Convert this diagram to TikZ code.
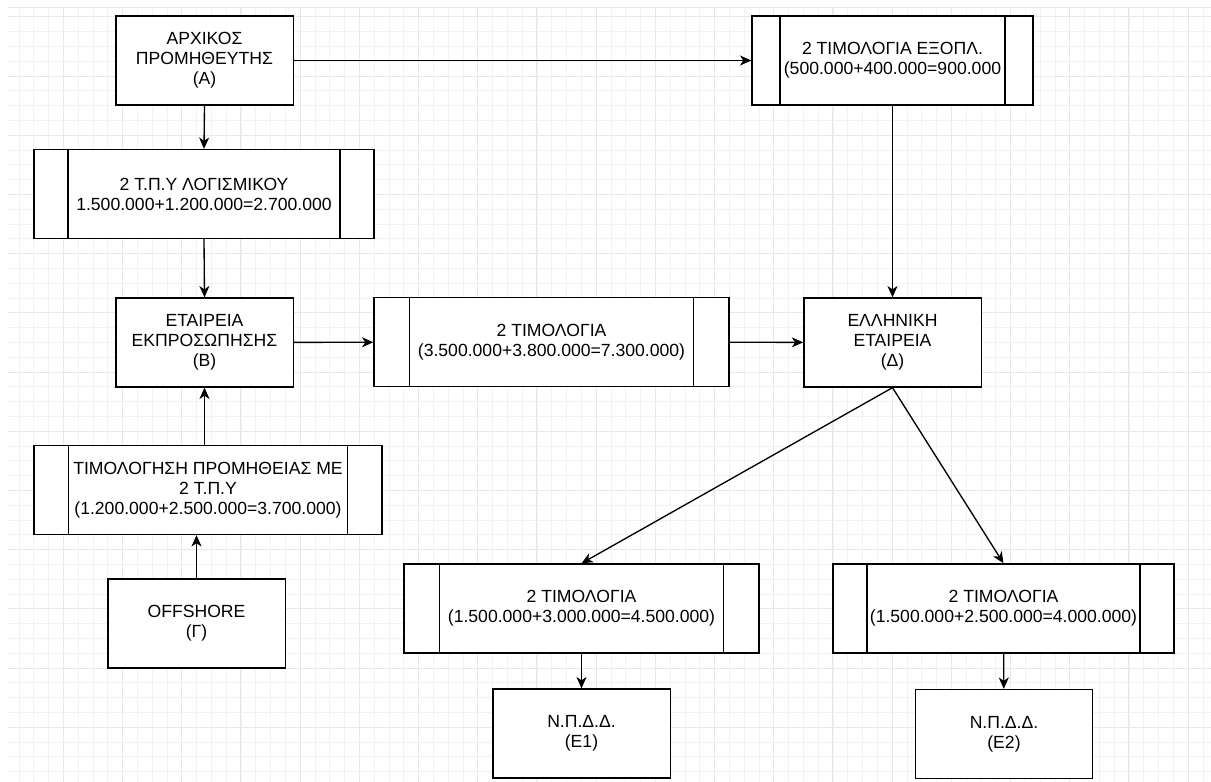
\documentclass[tikz,border=0pt]{standalone}
\usepackage{fontspec}
\setmainfont{Liberation Sans}
\usetikzlibrary{arrows.meta,calc}
\tikzset{
	minorline/.style={line width=0.6pt, color=black!5},
	majorline/.style={line width=0.75pt, color=black!9},
	box/.style={draw, line width=1pt, fill=white, align=center,
		inner sep=0pt, minimum width=133pt, minimum height=66.75pt,
		font=\fontsize{13.2}{15}\selectfont},
	procbox/.style={box, minimum width=#1,
		path picture={
			\draw[line width=1pt]
				($(path picture bounding box.north west)!0.1!(path picture bounding box.north east)$) --
				($(path picture bounding box.south west)!0.1!(path picture bounding box.south east)$);
			\draw[line width=1pt]
				($(path picture bounding box.north east)!0.1!(path picture bounding box.north west)$) --
				($(path picture bounding box.south east)!0.1!(path picture bounding box.south west)$);
		}},
	link/.style={-{Stealth[length=8.5pt,width=7.5pt,inset=2.5pt]}, line width=1pt},
}

\begin{document}
\begin{tikzpicture}[x=0.75pt, y=-0.75pt]
	\useasboundingbox (0,0) rectangle (1211,782);
	% grid
	\begin{scope}
		\clip (8,7) rectangle (1211,782);
		\foreach \k in {0,...,52}
			\draw[minorline] (8,{16.8+14.8*\k}) -- (1211,{16.8+14.8*\k});
		\foreach \k in {0,...,81}
			\draw[minorline] ({4.1+14.8*\k},7) -- ({4.1+14.8*\k},782);
		\foreach \k in {0,...,13}
			\draw[majorline] (8,{16.8+59.2*\k}) -- (1211,{16.8+59.2*\k});
		\foreach \k in {0,...,20}
			\draw[majorline] ({4.1+59.2*\k},7) -- ({4.1+59.2*\k},782);
	\end{scope}
	\draw[majorline] (8,7) -- (1211,7);

	\node[box] (1) at (204.5,60.5)
		{ΑΡΧΙΚΟΣ\\ ΠΡΟΜΗΘΕΥΤΗΣ\\ (Α)};
	\node[procbox=210.75pt] (2) at (892.5,60.5)
		{2 ΤΙΜΟΛΟΓΙΑ ΕΞΟΠΛ.\\ (500.000+400.000=900.000};
	\node[procbox=255pt] (3) at (204,194)
		{2 Τ.Π.Υ ΛΟΓΙΣΜΙΚΟΥ\\ 1.500.000+1.200.000=2.700.000};
	\node[box] (4) at (204.5,342.5)
		{ΕΤΑΙΡΕΙΑ\\ ΕΚΠΡΟΣΩΠΗΣΗΣ\\ (Β)};
	\node[procbox=266.25pt] (5) at (551.5,342)
		{2 ΤΙΜΟΛΟΓΙΑ\\ (3.500.000+3.800.000=7.300.000)};
	\node[box] (6) at (892.5,342.5)
		{ΕΛΛΗΝΙΚΗ\\ ΕΤΑΙΡΕΙΑ\\ (Δ)};
	\node[procbox=261pt] (7) at (208,490)
		{ΤΙΜΟΛΟΓΗΣΗ ΠΡΟΜΗΘΕΙΑΣ ΜΕ\\ 2 Τ.Π.Υ\\ (1.200.000+2.500.000=3.700.000)};
	\node[box] (8) at (196.5,623.5)
		{OFFSHORE\\ (Γ)};
	\node[procbox=266.25pt] (9) at (581.5,608.5)
		{2 ΤΙΜΟΛΟΓΙΑ\\ (1.500.000+3.000.000=4.500.000)};
	\node[procbox=255.75pt] (10) at (1003.5,608.5)
		{2 ΤΙΜΟΛΟΓΙΑ\\ (1.500.000+2.500.000=4.000.000)};
	\node[box] (11) at (581.5,733.5)
		{Ν.Π.Δ.Δ.\\ (Ε1)};
	\node[box] (12) at (1004,734)
		{Ν.Π.Δ.Δ.\\ (Ε2)};

	\draw[link] (1.south) -- (3.north);
	\draw[link] (1) -- (2);
	\draw[link] (2) -- (6);
	\draw[link] (3.south) -- (4.north);
	\draw[link] (4) -- (5);
	\draw[link] (5) -- (6);
	\draw[link] (8.north) -- (8.north |- 7.south);
	\draw[link] (7.north -| 4.south) -- (4.south);
	\draw[link] (6.south) -- (9.north);
	\draw[link] (6.south) -- (10.north);
	\draw[link] (9) -- (11);
	\draw[link] (10) -- (12);
\end{tikzpicture}
\end{document}
